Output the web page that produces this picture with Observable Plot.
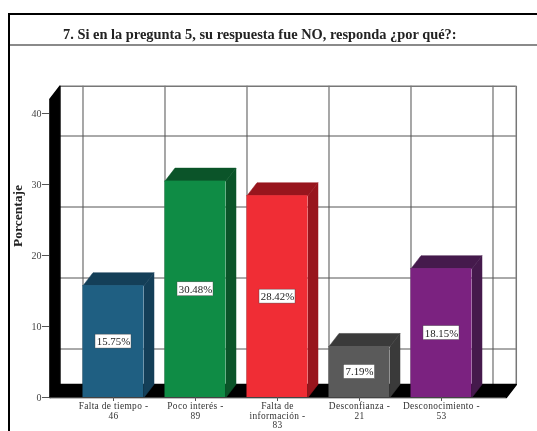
<!DOCTYPE html>
<html lang="es">
<head>
<meta charset="utf-8">
<script src="https://cdn.jsdelivr.net/npm/d3@7"></script>
<script src="https://cdn.jsdelivr.net/npm/@observablehq/plot@0.6"></script>
<style>
html,body{margin:0;padding:0;background:#fff;overflow:hidden}
#page{position:relative;width:537px;height:431px;overflow:hidden;background:#fff;filter:blur(.7px)}
#frame{position:absolute;left:8px;top:13px;width:540px;height:430px;border-left:2px solid #000;border-top:2px solid #000}
#rule{position:absolute;left:10px;top:44px;width:528px;height:2px;background:#8a8a8a}
#title{position:absolute;left:63px;top:26px;font:bold 14.4px "Liberation Serif",serif;color:#222;white-space:nowrap}
#chart{position:absolute;left:0;top:0}
#chart svg{display:block}
#chart [aria-label="x-axis tick label"]{letter-spacing:.35px}
</style>
</head>
<body>
<div id="page">
  <div id="frame"></div>
  <div id="rule"></div>
  <div id="title">7. Si en la pregunta 5, su respuesta fue NO, responda ¿por qué?:</div>
  <div id="chart"></div>
</div>
<script>
const categories = ["Falta de tiempo -\n46", "Poco interés -\n89", "Falta de\ninformación -\n83", "Desconfianza -\n21", "Desconocimiento -\n53"];
const values = [15.75, 30.48, 28.42, 7.19, 18.15];
const labels = ["15.75%", "30.48%", "28.42%", "7.19%", "18.15%"];
const frontColors = ["#1f5f82", "#0f8c45", "#f02d35", "#5a5a5a", "#7b2280"];
const sideColors = ["#143f58", "#0b5429", "#98151d", "#3a3a3a", "#451a4c"];
const yTicks = [0, 10, 20, 30, 40];
const backGrid = [5, 15, 25, 35];

// Chart geometry in scale units
const W = 0.372, DX = 0.122, DY = 1.83;
const wallX = -0.275, endX = 5.29, topY = 42;
const bars = values.map((v, i) => ({i, v, x1: i + .5 - W, x2: i + .5 + W, label: labels[i], front: frontColors[i], side: sideColors[i], half: (labels[i].length * 2.5 + 3) / 82}));
const poly = pts => pts.map(([x, y]) => ({x, y}));

const marks = [
  // back wall grid
  Plot.ruleX([0, 1, 2, 3, 4, 5], {x: d => d + .5 - W, y1: DY, y2: topY + DY, stroke: "#8a8a8a", strokeWidth: 1.5}),
  Plot.ruleX([endX + DX], {y1: DY, y2: topY + DY, stroke: "#777", strokeWidth: 1.5}),
  Plot.ruleY(backGrid, {y: d => d + DY, x1: wallX + DX, x2: endX + DX, stroke: "#555", strokeWidth: 1}),
  Plot.ruleY([topY + DY], {x1: wallX + DX, x2: endX + DX, stroke: "#777", strokeWidth: 1.6}),
  // left wall and floor
  Plot.line(poly([[wallX, 0], [wallX + DX, DY], [wallX + DX, topY + DY], [wallX, topY], [wallX, 0]]), {x: "x", y: "y", fill: "#000", stroke: "#000"}),
  Plot.line(poly([[wallX, 0], [endX, 0], [endX + DX, DY], [wallX + DX, DY], [wallX, 0]]), {x: "x", y: "y", fill: "#000", stroke: "#000"}),
  // bars: side, top, front
  ...bars.flatMap(b => [
    Plot.line(poly([[b.x2, 0], [b.x2 + DX, DY], [b.x2 + DX, b.v + DY], [b.x2, b.v], [b.x2, 0]]), {x: "x", y: "y", fill: b.side, stroke: b.side, strokeWidth: .5}),
    Plot.line(poly([[b.x1, b.v], [b.x1 + DX, b.v + DY], [b.x2 + DX, b.v + DY], [b.x2, b.v], [b.x1, b.v]]), {x: "x", y: "y", fill: b.side, stroke: b.side, strokeWidth: .5})
  ]),
  Plot.rectY(bars, {x1: "x1", x2: "x2", y1: 0, y2: "v", fill: "front"}),
  // value labels
  Plot.rect(bars, {x1: d => d.i + .5 - d.half, x2: d => d.i + .5 + d.half, y1: d => d.v / 2 - .98, y2: d => d.v / 2 + .98, fill: "#fff", stroke: "#444", strokeWidth: .4}),
  Plot.text(bars, {x: d => d.i + .5, y: d => d.v / 2, text: "label", fontSize: 10.8, fill: "#222"}),
  // axes
  Plot.ruleY([0], {x1: wallX - .08, x2: endX, stroke: "#444", strokeWidth: 1}),
  Plot.axisY({ticks: yTicks, tickSize: 7, tickPadding: 1, fontSize: 10, stroke: "#555", color: "#444", label: null}),
  Plot.axisX({ticks: [0, 1, 2, 3, 4].map(d => d + .5), tickFormat: d => categories[d - .5], tickSize: 4, tickPadding: 1, lineHeight: 1, fontSize: 9.4, textOverflow: null, stroke: "#555", color: "#333", label: null}),
  Plot.text(["Porcentaje"], {frameAnchor: "left", dx: 17 - 49, y: 21.2, rotate: -90, fontSize: 13.5, fontWeight: "bold", fill: "#222"})
];

const plot = Plot.plot({
  width: 537,
  height: 431,
  marginLeft: 49,
  marginBottom: 34,
  marginTop: 0,
  marginRight: 0,
  style: {background: "transparent", fontFamily: '"Liberation Serif", serif'},
  x: {type: "linear", domain: [-72 / 82, (537 - 72) / 82], range: [0, 537]},
  y: {type: "linear", domain: [0, 40], range: [397, 113]},
  color: {type: "identity"},
  marks
});
document.getElementById("chart").append(plot);
</script>
</body>
</html>
